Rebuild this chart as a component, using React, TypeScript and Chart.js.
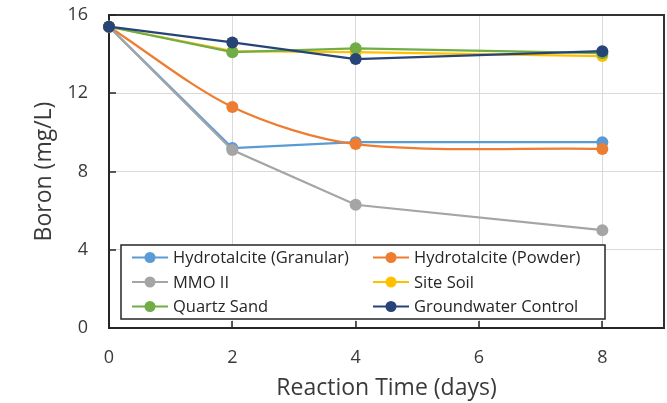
import { useEffect, useRef } from 'react';
import { Chart, registerables } from 'chart.js';

Chart.register(...registerables);

// Boron concentration over time for each sorbent / control
const days = [0, 2, 4, 8];
const granular = [15.4, 9.2, 9.5, 9.5];
const powder = [15.4, 11.3, 9.4, 9.15];
const mmo = [15.4, 9.1, 6.3, 5.0];
const siteSoil = [15.4, 14.15, 14.1, 13.9];
const quartzSand = [15.4, 14.1, 14.3, 14.05];
const groundwater = [15.4, 14.6, 13.75, 14.15];

const xTicks = [0, 2, 4, 6, 8];
const yTicks = [0, 4, 8, 12, 16];

const seriesNames = [
  'Hydrotalcite (Granular)',
  'Hydrotalcite (Powder)',
  'MMO II',
  'Site Soil',
  'Quartz Sand',
  'Groundwater Control',
];
const seriesValues = [granular, powder, mmo, siteSoil, quartzSand, groundwater];
const seriesColors = ['#5B9BD5', '#ED7D31', '#A5A5A5', '#FFC000', '#70AD47', '#264478'];
const seriesTension = [0, 0.3, 0, 0, 0, 0];

const FONT = '"Open Sans", Lato, sans-serif';
const TEXT = '#3a3a3a';

const frameAndTicks = {
  id: 'frameAndTicks',
  beforeDatasetsDraw(chart: any) {
    const { ctx, chartArea: a, scales } = chart;
    ctx.save();
    ctx.strokeStyle = '#333333';
    ctx.lineWidth = 2;
    ctx.beginPath();
    ctx.moveTo(a.left, a.top);
    ctx.lineTo(a.right, a.top);
    ctx.lineTo(a.right, a.bottom);
    ctx.stroke();

    // inward tick marks
    ctx.strokeStyle = '#262626';
    ctx.lineWidth = 1.5;
    ctx.beginPath();
    xTicks.forEach((v) => {
      if (v === 0) return;
      const x = Math.round(scales.x.getPixelForValue(v));
      ctx.moveTo(x, a.bottom);
      ctx.lineTo(x, a.bottom - 7);
    });
    yTicks.forEach((v) => {
      if (v === 0) return;
      const y = Math.round(scales.y.getPixelForValue(v));
      ctx.moveTo(a.left, y);
      ctx.lineTo(a.left + 7, y);
    });
    ctx.stroke();
    ctx.restore();
  },
};

const boxedLegend = {
  id: 'boxedLegend',
  afterDatasetsDraw(chart: any) {
    const { ctx, chartArea: a } = chart;
    const left = a.left + 12;
    const width = 484;
    const height = 74;
    const top = a.bottom - 9 - height;
    ctx.save();
    ctx.fillStyle = '#ffffff';
    ctx.fillRect(left, top, width, height);
    ctx.strokeStyle = '#262626';
    ctx.lineWidth = 1.5;
    ctx.strokeRect(left, top, width, height);

    ctx.font = `16.5px ${FONT}`;
    ctx.textBaseline = 'middle';
    ctx.textAlign = 'left';
    const colX = [left + 11, left + 252];
    seriesNames.forEach((name, i) => {
      const col = i % 2;
      const row = Math.floor(i / 2);
      const x0 = colX[col];
      const y = top + 12.5 + row * 24.5;
      ctx.strokeStyle = seriesColors[i];
      ctx.lineWidth = 2;
      ctx.beginPath();
      ctx.moveTo(x0, y);
      ctx.lineTo(x0 + 36, y);
      ctx.stroke();
      ctx.fillStyle = seriesColors[i];
      ctx.beginPath();
      ctx.arc(x0 + 18, y, 5.5, 0, Math.PI * 2);
      ctx.fill();
      ctx.fillStyle = '#262626';
      ctx.fillText(name, x0 + 41, y + 1);
    });
    ctx.restore();
  },
};

export default function App() {
  const canvasRef = useRef<HTMLCanvasElement>(null);

  useEffect(() => {
    document.body.style.margin = '0';
    const canvas = canvasRef.current;
    if (!canvas) return;

    const datasets = seriesNames.map((name, i) => ({
      label: name,
      data: days.map((d, j) => ({ x: d, y: seriesValues[i][j] })),
      borderColor: seriesColors[i],
      backgroundColor: seriesColors[i],
      pointBackgroundColor: seriesColors[i],
      pointBorderColor: seriesColors[i],
      pointRadius: 6,
      pointBorderWidth: 0,
      borderWidth: 2.25,
      tension: seriesTension[i],
      clip: false as const,
      order: seriesNames.length - 1 - i,
    }));

    const chart = new Chart(canvas, {
      type: 'line',
      data: { datasets },
      plugins: [frameAndTicks, boxedLegend],
      options: {
        animation: false,
        responsive: false,
        layout: { autoPadding: false, padding: { top: 15, right: 3, left: 0, bottom: 0 } },
        plugins: { legend: { display: false }, tooltip: { enabled: false } },
        scales: {
          x: {
            type: 'linear',
            min: 0,
            max: 9,
            afterBuildTicks: (s: any) => {
              s.ticks = xTicks.map((v) => ({ value: v }));
            },
            afterFit: (s: any) => {
              s.height = 75;
              s.paddingLeft = 0;
              s.paddingRight = 0;
            },
            ticks: {
              autoSkip: false,
              maxRotation: 0,
              padding: 19,
              color: TEXT,
              font: { family: FONT, size: 18 },
            },
            grid: { color: '#D9D9D9', lineWidth: 1, drawTicks: false },
            border: { color: '#262626', width: 2 },
            title: {
              display: true,
              text: 'Reaction Time (days)',
              color: TEXT,
              font: { family: FONT, size: 23 },
              padding: { top: 0, bottom: 1 },
            },
          },
          y: {
            type: 'linear',
            min: 0,
            max: 16,
            afterBuildTicks: (s: any) => {
              s.ticks = yTicks.map((v) => ({ value: v }));
            },
            afterFit: (s: any) => {
              s.width = 109;
              s.paddingTop = 0;
              s.paddingBottom = 0;
            },
            ticks: {
              padding: 21,
              color: TEXT,
              font: { family: FONT, size: 18 },
            },
            grid: { color: '#D9D9D9', lineWidth: 1, drawTicks: false },
            border: { color: '#262626', width: 2 },
            title: {
              display: true,
              text: 'Boron (mg/L)',
              color: TEXT,
              font: { family: FONT, size: 23 },
              padding: { top: 31, bottom: 0 },
            },
          },
        },
      },
    });

    return () => chart.destroy();
  }, []);

  return (
    <div style={{ width: 667, height: 403 }}>
      <canvas ref={canvasRef} width={667} height={403} style={{ width: 667, height: 403 }} />
    </div>
  );
}
